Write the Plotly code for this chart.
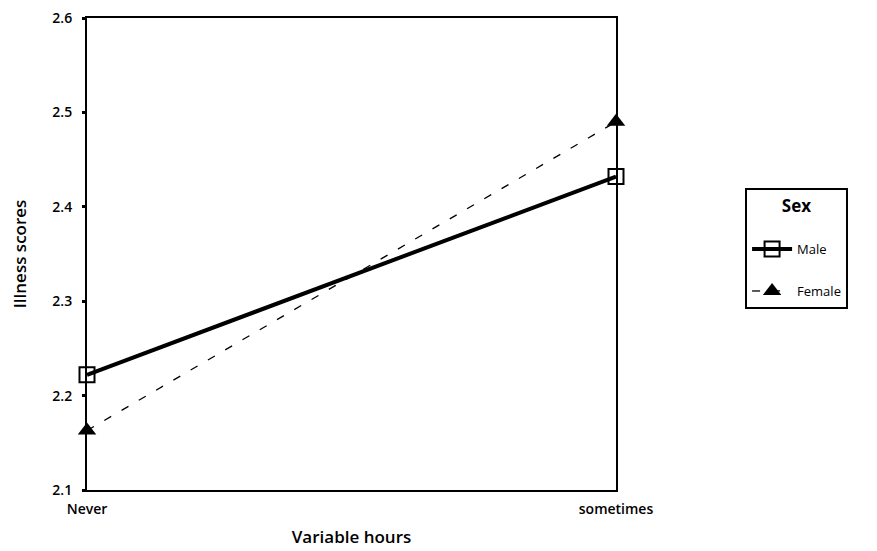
import plotly.graph_objects as go

categories = ["Never", "sometimes"]
male = [2.222, 2.432]
female = [2.163, 2.490]
y_ticks = [2.1, 2.2, 2.3, 2.4, 2.5, 2.6]

x_pos = list(range(len(categories)))

fig = go.Figure()
fig.add_trace(go.Scatter(
    x=x_pos, y=male, name="Male", mode="lines+markers", legendgroup="m",
    line=dict(color="black", width=4),
    marker=dict(symbol="square-open", size=15, color="black", line=dict(width=2)),
    cliponaxis=False,
))
fig.add_trace(go.Scatter(
    x=x_pos, y=female, name="Female", mode="lines+markers", legendgroup="f",
    line=dict(color="black", width=1.3, dash="8px,12px"),
    marker=dict(symbol="triangle-up", size=16, color="black"),
    cliponaxis=False,
))

font = "Open Sans, Noto Sans, sans-serif"
# page body has an 8px margin, so the plot area is offset by 8px in the viewport
fig.update_layout(
    width=877, height=551,
    margin=dict(l=79, r=269, t=10, b=69, autoexpand=False),
    plot_bgcolor="white", paper_bgcolor="white",
    font=dict(family=font, color="black", size=14, weight=600),
    legend=dict(
        title=dict(text="Sex<br><span style='font-size:4px'> </span>",
                   side="top center", font=dict(size=17, weight=700)),
        x=1.244, y=0.64, xanchor="left", yanchor="top",
        bordercolor="black", borderwidth=2,
        font=dict(size=13, weight=500),
        tracegroupgap=22,
        itemwidth=40,
    ),
    xaxis=dict(
        range=[0, 1], tickvals=x_pos, ticktext=categories,
        showgrid=False, zeroline=False, automargin=False,
        showline=True, linecolor="black", linewidth=2, mirror=True,
        ticks="", ticklabelstandoff=5, tickfont=dict(size=14),
        ticklabeloverflow="allow",
        title=dict(text="Variable hours", font=dict(size=17), standoff=14),
    ),
    yaxis=dict(
        range=[2.1, 2.6], tickvals=y_ticks, ticktext=[f"{v:.1f}" for v in y_ticks],
        showgrid=False, zeroline=False, automargin=False,
        showline=True, linecolor="black", linewidth=2, mirror=True,
        ticks="outside", ticklen=3, tickwidth=3, tickcolor="black",
        ticklabelstandoff=7, ticklabeloverflow="allow",
        tickfont=dict(size=14),
        title=dict(text="Illness scores", font=dict(size=17), standoff=26),
    ),
)

fig.write_html("out.html")
